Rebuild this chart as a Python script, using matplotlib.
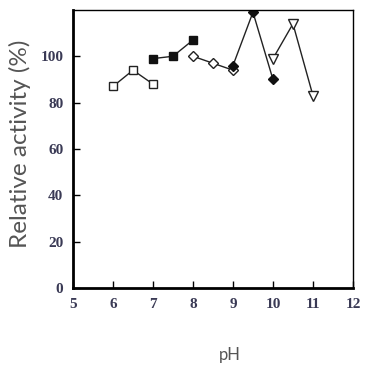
import matplotlib
matplotlib.use("Agg")
import matplotlib.pyplot as plt

# pH series and relative activity (%) for each buffer
ph_open_sq = [6, 6.5, 7]
act_open_sq = [87, 94, 88]
ph_fill_sq = [7, 7.5, 8]
act_fill_sq = [99, 100, 107]
ph_open_dia = [8, 8.5, 9]
act_open_dia = [100, 97, 94]
ph_fill_dia = [9, 9.5, 10]
act_fill_dia = [96, 119, 90]
ph_open_tri = [10, 10.5, 11]
act_open_tri = [99, 114, 83]

x_ticks = [5, 6, 7, 8, 9, 10, 11, 12]
y_ticks = [0, 20, 40, 60, 80, 100]

fig = plt.figure(figsize=(3.65, 3.67), dpi=100)
ax = fig.add_axes([0.2, 0.215, 0.767, 0.758])

ax.plot(ph_open_sq, act_open_sq, color="#222222", lw=1, marker="s", ms=6,
        mfc="white", mec="#222222", mew=1)
ax.plot(ph_fill_sq, act_fill_sq, color="#222222", lw=1, marker="s", ms=6,
        mfc="#111111", mec="#111111")
ax.plot(ph_open_dia, act_open_dia, color="#222222", lw=1, marker="D", ms=5,
        mfc="white", mec="#222222", mew=1)
ax.plot(ph_fill_dia, act_fill_dia, color="#222222", lw=1, marker="D", ms=5,
        mfc="#111111", mec="#111111")
ax.plot(ph_open_tri, act_open_tri, color="#222222", lw=1, marker="v", ms=7,
        mfc="white", mec="#222222", mew=1)

ax.set_xlim(5, 12)
ax.set_ylim(0, 120)
ax.set_xticks(x_ticks)
ax.set_yticks(y_ticks)
ax.set_xticklabels([str(t) for t in x_ticks], family="Liberation Serif",
                   fontweight="bold", fontsize=11, color="#3a3a55")
ax.set_yticklabels([str(t) for t in y_ticks], family="Liberation Serif",
                   fontweight="bold", fontsize=11, color="#3a3a55")
ax.tick_params(direction="in", length=5, width=1, pad=7)

ax.spines["left"].set_linewidth(2)
ax.spines["bottom"].set_linewidth(2)
ax.spines["top"].set_linewidth(1)
ax.spines["right"].set_linewidth(1)

ax.set_xlabel("pH", family="Lato", fontsize=12, color="#555555")
ax.set_ylabel("Relative activity (%)", family="Lato", fontsize=17.5,
              color="#555555")
ax.xaxis.set_label_coords(0.56, -0.21)
ax.yaxis.set_label_coords(-0.15, 0.52)

plt.savefig("out.png", dpi=100)
